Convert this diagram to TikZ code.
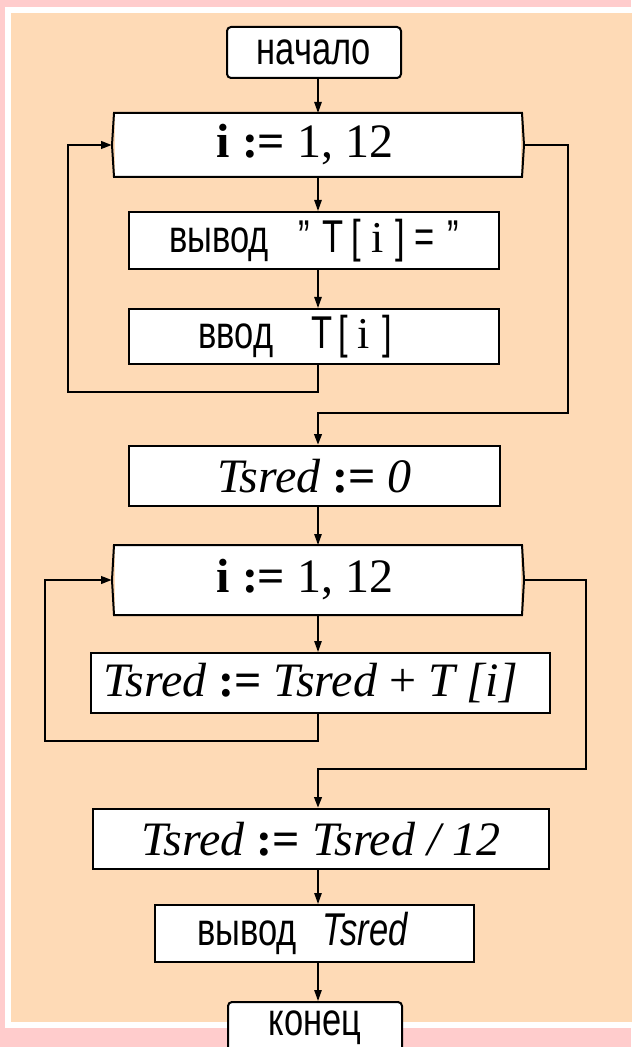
\documentclass[tikz,border=0pt]{standalone}
\usepackage{fontspec}
\setmainfont{Liberation Serif}
\newfontfamily\nsans{Liberation Sans}[FakeStretch=0.75, Scale=1.045]
\usetikzlibrary{arrows.meta}
\definecolor{framepink}{RGB}{255,204,204}
\definecolor{peach}{RGB}{254,218,182}

\begin{document}
\begin{tikzpicture}[x=0.5pt, y=-0.5pt,
    box/.style={draw=black, line width=1pt, fill=white, inner sep=0pt,
        font=\fontsize{22}{26}\selectfont},
    term/.style={box, rounded corners=2pt, minimum width=87pt, minimum height=25.5pt},
    loopbox/.style={box, draw=none, minimum width=203pt},
    rm/.style={font=\fontsize{24}{28}\selectfont},
    flow/.style={line width=0.7pt, -{Triangle[length=5.5pt, width=3.7pt]}},
    back/.style={flow, line width=1.3pt}]

    % Draw the page frame
    \useasboundingbox (0,0) rectangle (631,1047);
    \fill[framepink] (0,0) rectangle (631,1047);
    \fill[white] (5,7) rectangle (640,1028);
    \fill[peach] (11,13) rectangle (640,1022);

    % Draw the blocks
    \node[term] (start) at (314,52.5) {\nsans начало};
    \node[loopbox, rm, minimum height=31pt] (loopA) at (318,145) {\textbf{i :=} 1, 12\kern13pt};
    \node[box, minimum width=185pt, minimum height=28.5pt] (outA) at (314,240.5)
        {\nsans вывод\hspace{15pt}”\hspace{6pt}T\hspace{4pt}[\hspace{5pt}{\rmfamily i}\hspace{6pt}]\hspace{5pt}=\hspace{6pt}”};
    \node[box, minimum width=185pt, minimum height=27.5pt] (inA) at (314,336.5)
        {\nsans ввод\hspace{19pt}T\hspace{3pt}[\hspace{5pt}{\rmfamily i}\hspace{6pt}]\kern19pt};
    \node[box, rm, minimum width=185.5pt, minimum height=30pt] (zero) at (314.5,476)
        {\textit{Tsred} \textbf{:=} \textit{0}};
    \node[loopbox, rm, minimum height=34pt] (loopB) at (318,580) {\textbf{i :=} 1, 12\kern13pt};
    \node[box, rm, minimum width=229.5pt, minimum height=30pt] (sum) at (320.5,683)
        {\textit{Tsred} \textbf{:=} \textit{Tsred} + \textit{T [i]}\kern10pt};
    \node[box, rm, minimum width=228pt, minimum height=30pt] (avg) at (321,839)
        {\textit{Tsred} \textbf{:=} \textit{Tsred / 12}};
    \node[box, minimum width=159.5pt, minimum height=28.5pt] (show) at (314.5,933.5)
        {\nsans вывод\hspace{13pt}\itshape Tsred\kern12pt};
    \node[term] (stop) at (315,1027.5) {\nsans конец};

    % Draw the loop outlines
    \foreach \n in {loopA, loopB}
        \draw[line width=1pt] (\n.north west) -- (\n.north east) -- ([xshift=1pt]\n.east)
            -- (\n.south east) -- (\n.south west) -- ([xshift=-1pt]\n.west) -- cycle;

    % Draw the turning points of the loops
    \coordinate (backA) at (68,392);
    \coordinate (exitA) at (568,413);
    \coordinate (backB) at (45,741);
    \coordinate (exitB) at (586,769);

    % Draw the straight arrows
    \draw[flow] (start.south -| loopA) -- (loopA.north);
    \draw[flow] (loopA.south) -- (outA.north -| loopA);
    \draw[flow] (outA.south -| loopA) -- (inA.north -| loopA);
    \draw[flow] (zero.south -| loopB) -- (loopB.north);
    \draw[flow] (loopB.south) -- (sum.north -| loopB);
    \draw[flow] (avg.south -| loopB) -- (show.north -| loopB);
    \draw[flow] (show.south -| loopB) -- (stop.north -| loopB);

    % Draw the first loop
    \draw[back] (inA.south -| loopA) |- (backA) |- ([xshift=-1pt]loopA.west);
    \draw[back] ([xshift=1pt]loopA.east) -| (exitA) -| (zero.north -| loopA);

    % Draw the second loop
    \draw[back] (sum.south -| loopB) |- (backB) |- ([xshift=-1pt]loopB.west);
    \draw[back] ([xshift=1pt]loopB.east) -| (exitB) -| (avg.north -| loopB);
\end{tikzpicture}
\end{document}
